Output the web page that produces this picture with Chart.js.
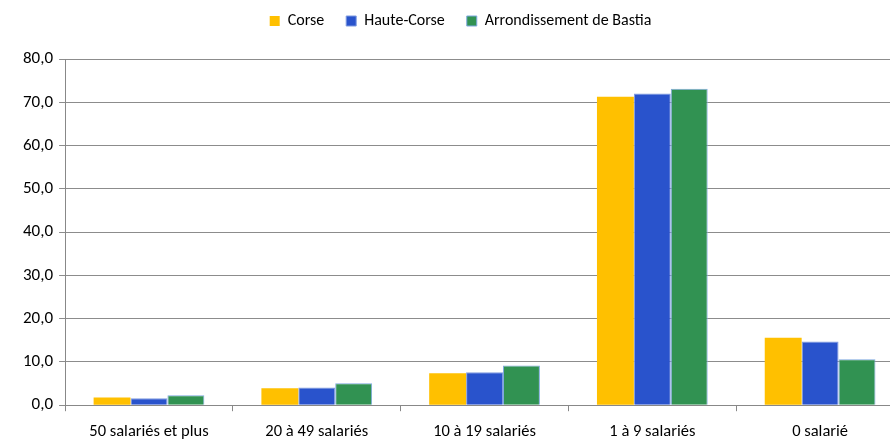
<!DOCTYPE html>
<html>
<head>
<meta charset="utf-8">
<script src="https://cdn.jsdelivr.net/npm/chart.js@4/dist/chart.umd.min.js"></script>
<style>
  html, body { margin: 0; padding: 0; background: #fff; overflow: hidden; }
  #wrap { width: 904px; height: 440px; }
</style>
</head>
<body>
<div id="wrap"><canvas id="chart"></canvas></div>
<script>
const categories = ["50 salariés et plus", "20 à 49 salariés", "10 à 19 salariés", "1 à 9 salariés", "0 salarié"]
const corse = [1.8, 3.9, 7.4, 71.3, 15.6]
const haute_corse = [1.6, 4.1, 7.6, 72.0, 14.7]
const bastia = [2.3, 5.1, 9.2, 73.1, 10.6]
const series_names = ["Corse", "Haute-Corse", "Arrondissement de Bastia"]

const font_family = "Carlito, Lato, 'Liberation Sans', sans-serif"

const ctx = document.getElementById("chart").getContext("2d");

// pushes the plot down so its top sits where the reference has it
const legendSpacer = {
  id: "legendSpacer",
  beforeInit(chart) {
    const fit = chart.legend.fit
    chart.legend.fit = function () {
      fit.bind(chart.legend)()
      this.height += 20
    }
  }
}

new Chart(ctx, {
  type: "bar",
  data: {
    labels: categories,
    datasets: [
      { label: series_names[0], data: corse, backgroundColor: "#FFC000", borderColor: "#FFC000", borderWidth: 0 },
      { label: series_names[1], data: haute_corse, backgroundColor: "#2953CC", borderColor: "#7F9BE0", borderWidth: 1 },
      { label: series_names[2], data: bastia, backgroundColor: "#319252", borderColor: "#7FA8E0", borderWidth: 1 }
    ]
  },
  plugins: [legendSpacer],
  options: {
    animation: { duration: 0 },
    responsive: true,
    maintainAspectRatio: false,
    layout: { padding: { top: -9, left: 17, right: 0, bottom: -13 } },
    datasets: {
      bar: { categoryPercentage: 0.66, barPercentage: 1.0 }
    },
    plugins: {
      legend: {
        position: "top",
        align: "center",
        labels: {
          boxWidth: 10,
          boxHeight: 10,
          padding: 22,
          color: "#000",
          font: { family: font_family, size: 16 }
        }
      },
      tooltip: { enabled: false }
    },
    scales: {
      x: {
        grid: { display: true, drawOnChartArea: false, drawTicks: true, tickLength: 6, color: "#888", offset: true },
        border: { color: "#888" },
        ticks: { color: "#000", font: { family: font_family, size: 16.5 }, padding: 11, maxRotation: 0 }
      },
      y: {
        min: 0,
        max: 80,
        grid: { color: "#8c8c8c", tickLength: 6, lineWidth: 1 },
        border: { color: "#888" },
        ticks: {
          stepSize: 10,
          color: "#000",
          font: { family: font_family, size: 17 },
          padding: 6,
          callback: v => v.toFixed(1).replace(".", ",")
        }
      }
    }
  }
});
</script>
</body>
</html>
